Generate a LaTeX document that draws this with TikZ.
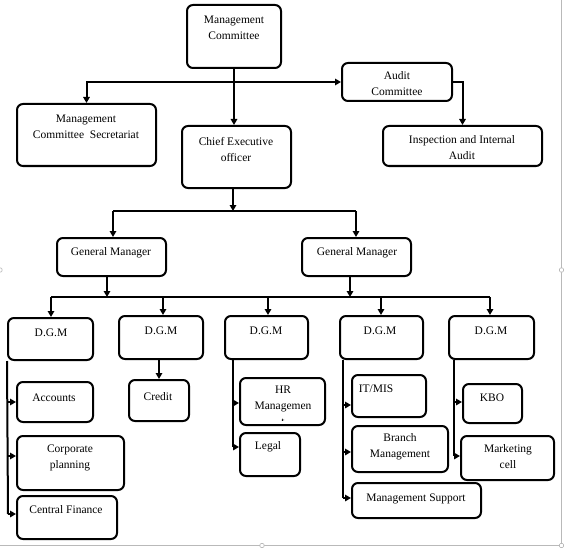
\documentclass[tikz,border=0pt]{standalone}
\usepackage{fontspec}
\setmainfont{Liberation Serif}
\usetikzlibrary{arrows.meta,calc}
\tikzset{
  box/.style={draw, line width=2pt, rounded corners=6pt, inner sep=0pt},
  txt/.style={align=center, inner sep=0pt, font=\fontsize{11.5}{16}\selectfont},
  ln/.style={line width=2pt},
  arr/.style={line width=2pt, -{Triangle[length=6pt,width=6.5pt]}},
  frame/.style={draw=gray!55, line width=0.9pt},
  handle/.style={draw=gray!55, line width=0.6pt, fill=white, rounded corners=1pt, minimum size=4pt, inner sep=0pt}
}
\newcommand\bx[5]{\node[box, minimum width={(#4-#2)*1pt}, minimum height={(#5-#3)*1pt}] (#1) at ({(#2+#4)/2},{(#3+#5)/2}) {};}
\begin{document}
\begin{tikzpicture}[x=1pt,y=-1pt]
\useasboundingbox (0,0) rectangle (564,548);
% frame of the drawing area
\draw[frame] (561.5,0) -- (561.5,545.5) -- (0,545.5);
\node[handle] (h1) at (561.5,270) {};
\node[handle] (h2) at (262,545.5) {};
\node[handle] (h3) at (561.5,545.5) {};
\node[handle] (h4) at (0,270) {};

% boxes
\bx{mc}{187}{5}{281}{68}
\bx{sec}{17}{104}{156}{166}
\bx{audit}{342}{63}{452}{101}
\bx{insp}{383}{126}{542}{166}
\bx{ceo}{182}{126}{291}{188}
\bx{gm1}{57}{238}{166}{276}
\bx{gm2}{302}{238}{411}{276}
\bx{d1}{8}{318}{93}{360}
\bx{d2}{119}{316}{203}{359}
\bx{d3}{225}{316}{308}{359}
\bx{d4}{340}{316}{423}{359}
\bx{d5}{449}{316}{534}{359}
\bx{acc}{17}{382}{93}{422}
\bx{corp}{17}{436}{124}{490}
\bx{cf}{17}{496}{117}{539}
\bx{cred}{129}{380}{189}{421}
\bx{hr}{240}{378}{325}{425}
\bx{legal}{240}{433}{300}{476}
\bx{it}{352}{375}{426}{417}
\bx{branch}{352}{426}{448}{472}
\bx{ms}{352}{483}{481}{518}
\bx{kbo}{463}{384}{522}{423}
\bx{mkt}{461}{436}{554}{480}

% texts
\node[txt] (tmc) at (234,27.5) {Management\\Committee};
\node[txt] (tsec) at (86,126.5) {Management\\Committee\ \ Secretariat};
\node[txt] (taudit) at (397,83.5) {Audit\\Committee};
\node[txt] (tinsp) at (462,147.5) {Inspection and Internal\\Audit};
\node[txt] (tceo) at (236,149.5) {Chief Executive\\officer};
\node[txt] (tgm1) at (111,253) {General Manager};
\node[txt] (tgm2) at (357,253) {General Manager};
\node[txt] (td1) at (51,333) {D.G.M};
\node[txt] (td2) at (161,331) {D.G.M};
\node[txt] (td3) at (266,331) {D.G.M};
\node[txt] (td4) at (380,331) {D.G.M};
\node[txt] (td5) at (491,331) {D.G.M};
\node[txt] (tacc) at (54,398) {Accounts};
\node[txt] (tcorp) at (70,457.5) {Corporate\\planning};
\node[txt] (tcf) at (66,510) {Central Finance};
\node[txt] (tcred) at (158,397) {Credit};
\node[txt] (thr) at (283,398.5) {HR\\Managemen};
\begin{scope}
\clip (250,414) rectangle (320,420.5);
\node[txt] (thr2) at (283,422) {t};
\end{scope}
\node[txt] (tlegal) at (268,447) {Legal};
\node[txt] (tit) at (376,389) {IT/MIS};
\node[txt] (tbranch) at (400,447) {Branch\\Management};
\node[txt] (tms) at (416,499) {Management Support};
\node[txt] (tkbo) at (492,398) {KBO};
\node[txt] (tmkt) at (508,457) {Marketing\\cell};

% top connectors
\coordinate (j1) at (mc.south |- audit.west);
\draw[arr] (mc.south) -- (ceo.north -| mc.south);
\draw[arr] (j1) -| (sec.north);
\draw[arr] (j1) -- (audit.west);
\draw[arr] (audit.east) -| (insp.north);

% CEO to general managers
\coordinate (b1) at (233,211);
\coordinate (b1l) at (113,211);
\coordinate (b1r) at (356,211);
\draw[arr] (ceo.south -| b1) -- (b1);
\draw[ln] (b1l) -- (b1r);
\draw[arr] (b1l) -- (gm1.north -| b1l);
\draw[arr] (b1r) -- (gm2.north -| b1r);

% general managers to DGMs
\coordinate (b2l) at (51,297);
\coordinate (b2r) at (490,297);
\coordinate (g1) at (107,297);
\coordinate (g2) at (350,297);
\draw[arr] (gm1.south -| g1) -- (g1);
\draw[arr] (gm2.south -| g2) -- (g2);
\draw[ln] (b2l) -- (b2r);
\draw[arr] (b2l) -- (d1.north -| b2l);
\draw[arr] (163,297) -- (d2.north -| 163,0);
\draw[arr] (268,297) -- (d3.north -| 268,0);
\draw[arr] (381,297) -- (d4.north -| 381,0);
\draw[arr] (b2r) -- (d5.north -| b2r);

% DGM 1 branch
\coordinate (v1) at (8,514);
\draw[ln] (d1.south west) -- (v1);
\draw[arr] (d1.south west |- acc.west) -- (acc.west);
\draw[arr] (d1.south west |- 0,456) -- (corp.west |- 0,456);
\draw[arr] (v1) -- (cf.west |- v1);

% DGM 2 branch
\draw[arr] (d2.south -| cred.north) -- (cred.north);

% DGM 3 branch
\coordinate (v3) at (233,447);
\draw[ln] (d3.south -| v3) -- (v3);
\draw[arr] (v3 |- 0,403) -- (hr.west |- 0,403);
\draw[arr] (v3) -- (legal.west |- v3);

% DGM 4 branch
\coordinate (v4) at (343,498);
\draw[ln] (d4.south -| v4) -- (v4);
\draw[arr] (v4 |- 0,405) -- (it.west |- 0,405);
\draw[arr] (v4 |- 0,452) -- (branch.west |- 0,452);
\draw[arr] (v4) -- (ms.west |- v4);

% DGM 5 branch
\coordinate (v5) at (454,456);
\draw[ln] (d5.south -| v5) -- (v5);
\draw[arr] (v5 |- 0,402) -- (kbo.west |- 0,402);
\draw[arr] (v5) -- (mkt.west |- v5);
\end{tikzpicture}
\end{document}
